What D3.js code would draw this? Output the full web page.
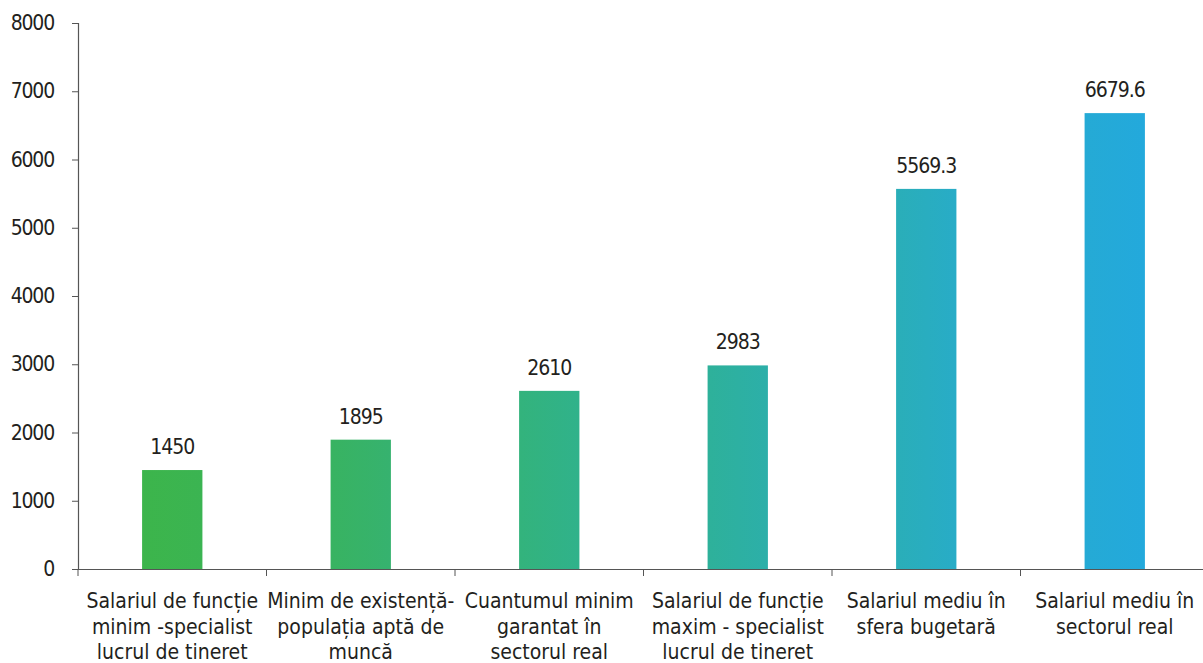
<!DOCTYPE html>
<html>
<head>
<meta charset="utf-8">
<script src="https://cdn.jsdelivr.net/npm/d3@7"></script>
<style>
  body { margin: 0; background: #fff; }
  svg text { font-family: "Liberation Sans Narrow", "DejaVu Sans Condensed", "Roboto", sans-serif; fill: #231f20; }
</style>
</head>
<body>
<div id="container"></div>
<script>
const categories = [
  "Salariul de funcție\nminim -specialist\nlucrul de tineret",
  "Minim de existență-\npopulația aptă de\nmuncă",
  "Cuantumul minim\ngarantat în\nsectorul real",
  "Salariul de funcție\nmaxim - specialist\nlucrul de tineret",
  "Salariul mediu în\nsfera bugetară",
  "Salariul mediu în\nsectorul real"
]
const values = [1450, 1895, 2610, 2983, 5569.3, 6679.6]
const valueLabels = ["1450", "1895", "2610", "2983", "5569.3", "6679.6"]
const yTicks = [0, 1000, 2000, 3000, 4000, 5000, 6000, 7000, 8000]

const colors = ["#3cb54b", "#37b268", "#31b383", "#2db0a1", "#29adc0", "#23a9dc"]

const width = 1203
const height = 663
const margins = { top: 23, bottom: 94, left: 78, right: -6 }

const xScale = d3.scaleBand(categories, [margins.left, width - margins.right]).padding(0)
const yScale = d3.scaleLinear([0, 8000], [height - margins.bottom, margins.top])

const svg = d3.select('#container')
  .append('svg')
  .attr('width', width)
  .attr('height', height)
  .attr('viewBox', [0, 0, width, height])

// slight left-to-right gradient on each bar
const defs = svg.append('defs')
colors.forEach((c, i) => {
  const next = colors[Math.min(i + 1, colors.length - 1)]
  const g = defs.append('linearGradient').attr('id', `bar${i}`)
    .attr('x1', '0%').attr('x2', '100%').attr('y1', '0%').attr('y2', '0%')
  g.append('stop').attr('offset', '0%').attr('stop-color', d3.interpolateRgb(c, colors[Math.max(i - 1, 0)])(0.25))
  g.append('stop').attr('offset', '100%').attr('stop-color', d3.interpolateRgb(c, next)(0.25))
})

// bars
const barFrac = 0.32
svg.append('g')
  .selectAll('rect')
  .data(values)
  .join('rect')
  .attr('x', (d, i) => xScale(categories[i]) + xScale.bandwidth() * (1 - barFrac) / 2)
  .attr('width', xScale.bandwidth() * barFrac)
  .attr('y', d => yScale(d))
  .attr('height', d => yScale(0) - yScale(d))
  .attr('fill', (d, i) => `url(#bar${i})`)

// value labels
svg.append('g')
  .selectAll('text')
  .data(values)
  .join('text')
  .attr('x', (d, i) => xScale(categories[i]) + xScale.bandwidth() / 2)
  .attr('y', d => yScale(d) - 16)
  .attr('text-anchor', 'middle')
  .attr('font-size', 21)
  .attr('letter-spacing', -1)
  .text((d, i) => valueLabels[i])

// y axis
const yAxis = svg.append('g')
  .attr('transform', `translate(${margins.left},0)`)
  .call(d3.axisLeft(yScale).tickValues(yTicks).tickSize(6).tickPadding(18).tickFormat(d3.format('d')))
yAxis.select('.domain').attr('stroke', '#555').attr('stroke-width', 1.2)
yAxis.selectAll('.tick line').attr('stroke', '#555')
yAxis.selectAll('.tick text').attr('font-size', 21).attr('fill', '#231f20')
  .attr('letter-spacing', -1.2)
  .attr('font-family', '"Liberation Sans Narrow", "DejaVu Sans Condensed", sans-serif')

// x axis
const xAxis = svg.append('g')
  .attr('transform', `translate(0,${yScale(0)})`)
  .call(d3.axisBottom(xScale).tickSize(0).tickFormat(''))
xAxis.select('.domain').attr('stroke', '#555').attr('stroke-width', 1.2)

// boundary ticks between categories
svg.append('g')
  .selectAll('line')
  .data(categories)
  .join('line')
  .attr('x1', d => xScale(d))
  .attr('x2', d => xScale(d))
  .attr('y1', yScale(0))
  .attr('y2', yScale(0) + 7)
  .attr('stroke', '#555')

// category labels
svg.append('g')
  .selectAll('text')
  .data(categories)
  .join('text')
  .attr('x', d => xScale(d) + xScale.bandwidth() / 2)
  .attr('y', yScale(0) + 39)
  .attr('text-anchor', 'middle')
  .attr('font-size', 21)
  .call(t => t.each(function (d) {
    const el = d3.select(this)
    d.split('\n').forEach((line, i) => {
      el.append('tspan')
        .attr('x', xScale(d) + xScale.bandwidth() / 2)
        .attr('dy', i === 0 ? 0 : 25.5)
        .text(line)
    })
  }))
</script>
</body>
</html>
